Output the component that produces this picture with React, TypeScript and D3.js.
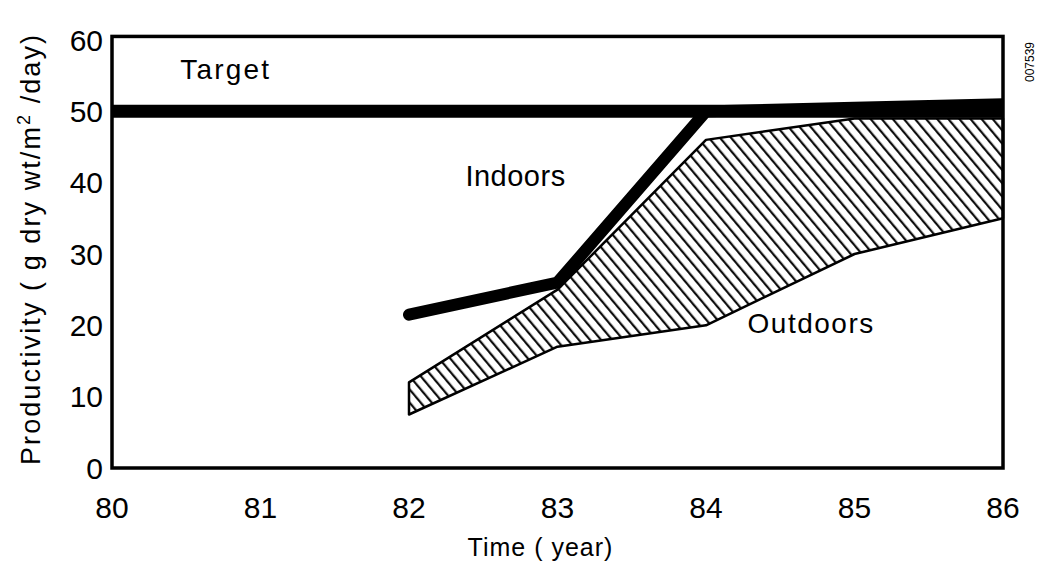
import React from 'react';
import * as d3 from 'd3';

// values
const years = [82, 83, 84, 85, 86];
const indoors = [21.5, 26, 50, 50.5, 51];
const outdoorsHigh = [12, 25, 46, 49, 49];
const outdoorsLow = [7.5, 17, 20, 30, 35];
const targetYears = [80, 86];
const targetValue = 50;
const xTicks = [80, 81, 82, 83, 84, 85, 86];
const yTicks = [0, 10, 20, 30, 40, 50, 60];

const width = 1040,
      height = 563,
      margin = {left: 112, right: 37, top: 40, bottom: 95};

const App = () => {
    const x = d3.scaleLinear()
        .domain([80, 86])
        .range([margin.left, width - margin.right]);
    const y = d3.scaleLinear()
        .domain([0, 60])
        .range([height - margin.bottom, margin.top]);

    const band = years.map((yr, i) => ({yr, lo: outdoorsLow[i], hi: outdoorsHigh[i]}));
    const areaPath = d3.area<any>()
        .x(d => x(d.yr))
        .y0(d => y(d.lo))
        .y1(d => y(d.hi))(band);

    const linePath = d3.line<any>()
        .x(d => x(d[0]))
        .y(d => y(d[1]));

    const indoorPath = linePath(years.map((yr, i) => [yr, indoors[i]]));
    const targetPath = linePath(targetYears.map(yr => [yr, targetValue]));

    const frameTop = y(60.5);
    const font = '"Liberation Sans", Arial, Helvetica, sans-serif';

    return (
        <svg width={width} height={height}
             style={{position: 'absolute', left: 0, top: 0, background: '#fff'}}
             fontFamily={font}>
            <defs>
                <pattern id="hatch" patternUnits="userSpaceOnUse" width="8.5" height="8.5"
                         patternTransform="rotate(-40)">
                    <line x1="4" y1="0" x2="4" y2="8.5" stroke="#000" strokeWidth="2.1" />
                </pattern>
                <clipPath id="plot">
                    <rect x={x(80)} y={frameTop} width={x(86) - x(80)} height={y(0) - frameTop} />
                </clipPath>
            </defs>

            {/* outdoors band */}
            <path d={areaPath} fill="url(#hatch)" stroke="#000" strokeWidth="2.5" strokeLinejoin="round" />

            <g clipPath="url(#plot)">
                {/* target line */}
                <path d={targetPath} fill="none" stroke="#000" strokeWidth="13" />

                {/* indoors line */}
                <path d={indoorPath} fill="none" stroke="#000" strokeWidth="12"
                      strokeLinecap="round" strokeLinejoin="miter" />
            </g>

            {/* frame */}
            <rect x={x(80)} y={frameTop} width={x(86) - x(80)} height={y(0) - frameTop}
                  fill="none" stroke="#000" strokeWidth="3.5" />

            {/* y ticks */}
            {yTicks.map(t => (
                <text key={'y' + t} x={x(80) - 9} y={y(t)} dy="0.36em"
                      textAnchor="end" fontSize="30">{t}</text>
            ))}

            {/* x ticks */}
            {xTicks.map(t => (
                <text key={'x' + t} x={x(t)} y={y(0) + 50}
                      textAnchor="middle" fontSize="30">{t}</text>
            ))}

            <text x={x(83) - 17} y={height - 7} textAnchor="middle" fontSize="25"
                  letterSpacing="1">Time ( year)</text>

            <text transform={`translate(40, ${y(30) - 4}) rotate(-90)`} textAnchor="middle"
                  fontSize="27" textLength="430" lengthAdjust="spacing">
                Productivity ( g dry wt/m<tspan dy="-10" fontSize="18">2</tspan><tspan dy="10"> /day)</tspan>
            </text>

            {/* labels */}
            <text x={x(80.46)} y={y(54.6)} fontSize="28" letterSpacing="2.2">Target</text>
            <text x={x(82.38)} y={y(39.5)} fontSize="29" letterSpacing="0.5">Indoors</text>
            <text x={x(84.28)} y={y(18.9)} fontSize="28" letterSpacing="1.5">Outdoors</text>

            <text transform="translate(1034, 62) rotate(-90)" textAnchor="middle" fontSize="12">007539</text>
        </svg>
    );
};

export default App;
